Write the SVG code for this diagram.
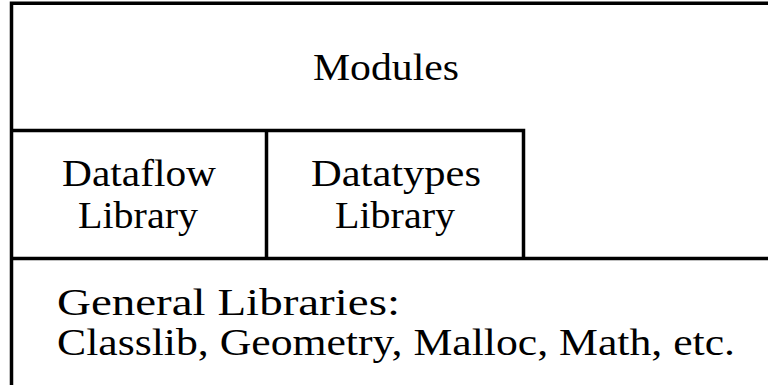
<svg xmlns="http://www.w3.org/2000/svg" width="768" height="385" viewBox="0 0 768 385">
<style>
.ln{stroke:#000;stroke-width:3.5;fill:none}
.t{font-family:"Liberation Serif","Times New Roman",serif;font-size:38px;fill:#000}
.c{text-anchor:middle}
</style>
<rect width="768" height="385" fill="#fff"/>
<g id="connectors">
<path class="ln" d="M11.5,385 V3.3 H768"/>
<path class="ln" d="M11.5,130.5 H523.5 V258.5"/>
<path class="ln" d="M266.5,130.5 V258.5"/>
<path class="ln" d="M11.5,258.5 H768"/>
</g>
<g id="modules"><text class="t c" x="386" y="80" textLength="146" lengthAdjust="spacingAndGlyphs">Modules</text></g>
<g id="dataflow"><text class="t c" x="139" y="186" textLength="154" lengthAdjust="spacingAndGlyphs">Dataflow</text><text class="t c" x="138" y="228" textLength="120" lengthAdjust="spacingAndGlyphs">Library</text></g>
<g id="datatypes"><text class="t c" x="396" y="186" textLength="170" lengthAdjust="spacingAndGlyphs">Datatypes</text><text class="t c" x="395" y="228" textLength="120" lengthAdjust="spacingAndGlyphs">Library</text></g>
<g id="general"><text class="t" x="57" y="315" textLength="343" lengthAdjust="spacingAndGlyphs">General Libraries:</text><text class="t" x="57" y="355" textLength="678" lengthAdjust="spacingAndGlyphs">Classlib, Geometry, Malloc, Math, etc.</text></g>
</svg>
